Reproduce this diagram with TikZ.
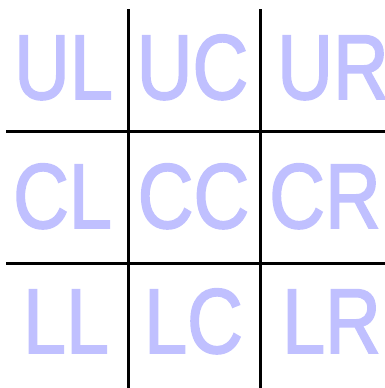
\documentclass[tikz,border=0pt]{standalone}
\usepackage{fontspec}
\setmainfont{Liberation Sans}
\newfontfamily\lblfont{Liberation Sans}[FakeBold=2]
\definecolor{lav}{RGB}{192,192,255}
\newcommand{\lbltext}[1]{\scalebox{0.84}[1]{#1}}
\begin{document}
\begin{tikzpicture}[x=1pt,y=-1pt,
  lbl/.style={text=lav,inner sep=0pt,anchor=base,font=\lblfont\fontsize{92}{92}\selectfont},
  gridline/.style={draw=black,line width=3pt}]
\useasboundingbox (0,0) rectangle (385,388);
\node[lbl] (UL) at (63.5,99) {\lbltext{UL}};
\node[lbl] (UC) at (192.5,99) {\lbltext{UC}};
\node[lbl] (UR) at (333,99) {\lbltext{UR}};
\node[lbl] (CL) at (62.5,228) {\lbltext{CL}};
\node[lbl] (CC) at (193.5,228) {\lbltext{CC}};
\node[lbl] (CR) at (325,228) {\lbltext{CR}};
\node[lbl] (LL) at (66,353) {\lbltext{LL}};
\node[lbl] (LC) at (193.5,353) {\lbltext{LC}};
\node[lbl] (LR) at (331.5,353) {\lbltext{LR}};
\coordinate (v1t) at (128.3,9.3);
\coordinate (v1b) at (128.3,388);
\coordinate (v2t) at (260.7,9.3);
\coordinate (v2b) at (260.7,388);
\coordinate (h1l) at (6,131.7);
\coordinate (h1r) at (385,131.7);
\coordinate (h2l) at (6,263.3);
\coordinate (h2r) at (385,263.3);
\draw[gridline] (v1t) -- (v1b);
\draw[gridline] (v2t) -- (v2b);
\draw[gridline] (h1l) -- (h1r);
\draw[gridline] (h2l) -- (h2r);
\end{tikzpicture}
\end{document}
